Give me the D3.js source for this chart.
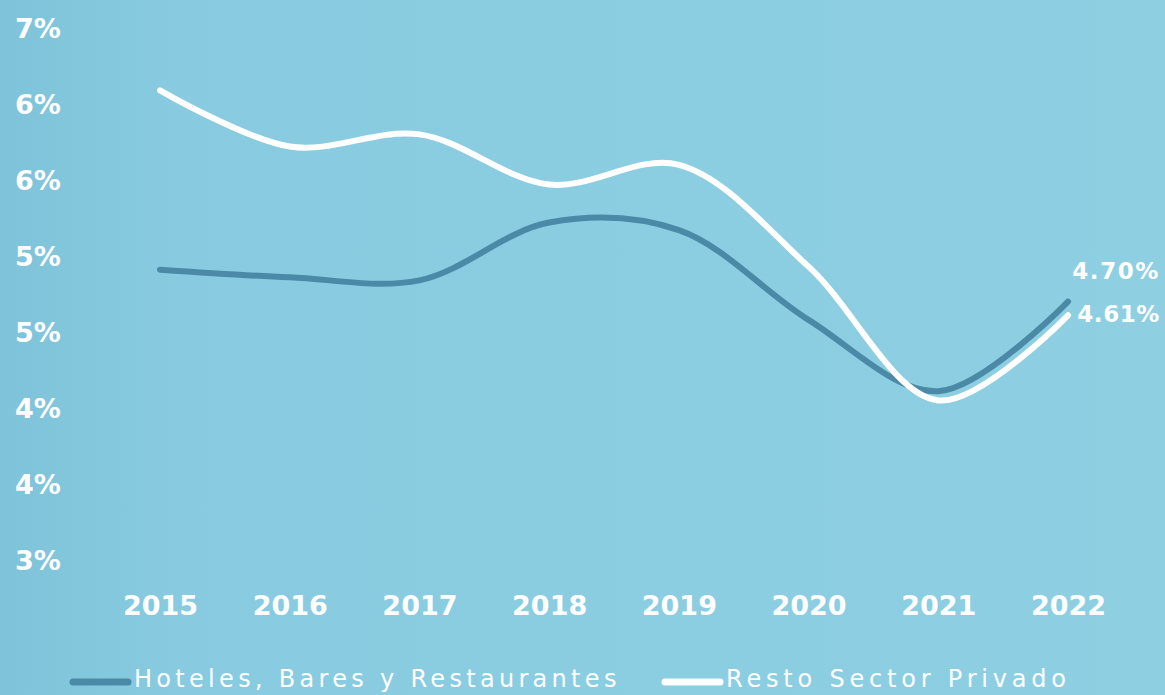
<!DOCTYPE html>
<html>
<head>
<meta charset="utf-8">
<script src="https://cdn.jsdelivr.net/npm/d3@7"></script>
<style>
  html, body { margin: 0; padding: 0; background: #8ccde1; }
  svg { display: block; }
</style>
</head>
<body>
<svg id="chart" width="1165" height="695"></svg>
<script>
const years = ["2015","2016","2017","2018","2019","2020","2021","2022"];
const hoteles = [4.91, 4.86, 4.84, 5.22, 5.17, 4.58, 4.11, 4.70];
const resto   = [6.09, 5.72, 5.80, 5.47, 5.60, 4.93, 4.05, 4.61];
const yTickValues = [3.0, 3.5, 4.0, 4.5, 5.0, 5.5, 6.0, 6.5];
const yTickLabels = ["3%", "4%", "4%", "5%", "5%", "6%", "6%", "7%"];
const seriesNames = ["Hoteles, Bares y Restaurantes", "Resto Sector Privado"];
const endLabels = ["4.70%", "4.61%"];

const W = 1165, H = 695;
const svg = d3.select("#chart");

// background
const defs = svg.append("defs");
const grad = defs.append("linearGradient").attr("id", "bg").attr("x1", "0").attr("x2", "1").attr("y1", "0").attr("y2", "0");
grad.append("stop").attr("offset", "0").attr("stop-color", "#7ec3d9");
grad.append("stop").attr("offset", "0.15").attr("stop-color", "#88cbe0");
grad.append("stop").attr("offset", "1").attr("stop-color", "#8ecfe2");
svg.append("rect").attr("width", W).attr("height", H).attr("fill", "url(#bg)");

const x = d3.scalePoint().domain(years).range([160, 1068]);
const y = d3.scaleLinear().domain([3, 6.5]).range([560, 28]);

const font = "'DejaVu Sans', sans-serif";

// y axis
const yAxis = d3.axisLeft(y)
  .tickValues(yTickValues)
  .tickSize(0)
  .tickFormat((d, i) => yTickLabels[i]);
const gy = svg.append("g").attr("transform", "translate(15,0)").call(yAxis);
gy.select(".domain").remove();
gy.selectAll("text")
  .attr("x", 0).attr("dx", 0)
  .attr("text-anchor", "start")
  .attr("dy", "0.36em")
  .attr("fill", "#ffffff")
  .style("font-family", font)
  .style("font-weight", "bold")
  .style("font-size", "27px");

// x axis
const xAxis = d3.axisBottom(x).tickSize(0);
const gx = svg.append("g").attr("transform", "translate(0,596)").call(xAxis);
gx.select(".domain").remove();
gx.selectAll("text")
  .attr("y", 0).attr("dy", "0.72em")
  .attr("fill", "#ffffff")
  .style("font-family", font)
  .style("font-weight", "bold")
  .style("font-size", "27px");

// lines
const line = d3.line()
  .x((d, i) => x(years[i]))
  .y(d => y(d))
  .curve(d3.curveCatmullRom.alpha(0.5));

const colors = ["#4a8aa6", "#ffffff"];
const series = [hoteles, resto];

series.forEach((s, k) => {
  svg.append("path")
    .datum(s)
    .attr("d", line)
    .attr("fill", "none")
    .attr("stroke", colors[k])
    .attr("stroke-width", 6)
    .attr("stroke-linecap", "round")
    .attr("stroke-linejoin", "round");
});

// end labels
const labelOffsets = [-31, -2];
const labelSpacing = ["1.6px", "0.6px"];
series.forEach((s, k) => {
  svg.append("text")
    .attr("x", 1160)
    .attr("y", y(s[s.length - 1]) + labelOffsets[k])
    .attr("dy", "0.36em")
    .attr("text-anchor", "end")
    .attr("fill", "#ffffff")
    .style("font-family", font)
    .style("font-weight", "bold")
    .style("font-size", "23px")
    .style("letter-spacing", labelSpacing[k])
    .text(endLabels[k]);
});

// legend
const legendX = [70, 662];
const legendSpacing = ["4.3px", "4.8px"];
series.forEach((s, k) => {
  const g = svg.append("g").attr("transform", `translate(${legendX[k]},682)`);
  g.append("line")
    .attr("x1", 3).attr("x2", 58)
    .attr("y1", 0).attr("y2", 0)
    .attr("stroke", colors[k])
    .attr("stroke-width", 7)
    .attr("stroke-linecap", "round");
  g.append("text")
    .attr("x", 64)
    .attr("y", 5)
    .attr("fill", "#ffffff")
    .style("font-family", font)
    .style("font-size", "24px")
    .style("letter-spacing", legendSpacing[k])
    .text(seriesNames[k]);
});
</script>
</body>
</html>
